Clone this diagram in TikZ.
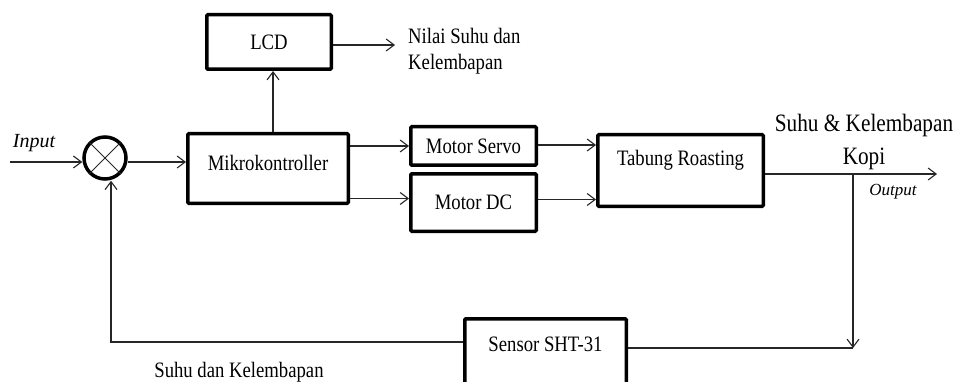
\documentclass[tikz,border=0pt]{standalone}
\usepackage{fontspec}
\setmainfont{Liberation Serif}[FakeStretch=0.85]
\newfontfamily\kopiitfont{Liberation Serif}
\usepackage{tikz}
\usetikzlibrary{positioning,arrows.meta}
\tikzset{
    kopiblock/.style={draw, line width=3.5pt, rounded corners=1pt, align=center, inner sep=0pt, font=\fontsize{22}{26}\selectfont},
    kopisum/.style={draw, circle, line width=3.5pt, minimum size=42pt, inner sep=0pt},
    kopiarrow/.style={draw, -{Straight Barb[length=8pt,width=12pt]}, line width=1.1pt, black!85},
    kopiline/.style={draw, line width=1.1pt, black!85},
    kopitext/.style={align=left, inner sep=0pt, font=\fontsize{22}{26}\selectfont},
    kopiitalic/.style={inner sep=0pt, font=\kopiitfont\itshape\fontsize{20}{24}\selectfont}
}

\begin{document}
\begin{tikzpicture}[x=1pt, y=-1pt]
    \useasboundingbox (0,0) rectangle (957,382);

    \node[kopisum] (sum) at (105,158) {};
    \node[kopiblock, minimum width=160.5pt, minimum height=69.5pt, text depth=11pt] (mcu) at (268,168.5) {Mikrokontroller};
    \node[kopiblock, minimum width=124.5pt, minimum height=54.5pt] (lcd) at (269,42) {LCD};
    \node[kopiblock, minimum width=125.5pt, minimum height=38.5pt] (servo) at (473.5,146) {Motor Servo};
    \node[kopiblock, minimum width=125.5pt, minimum height=57.5pt] (dc) at (473.5,202.5) {Motor DC};
    \node[kopiblock, minimum width=165.5pt, minimum height=71.5pt, text depth=26pt] (tabung) at (680.5,170.5) {Tabung Roasting};
    \node[kopiblock, minimum width=161.5pt, minimum height=70pt, text depth=19pt] (sensor) at (545.5,353.75) {Sensor SHT-31};

    \draw[kopiline, line width=0.8pt] (sum.45) -- (sum.225);
    \draw[kopiline, line width=0.8pt] (sum.135) -- (sum.315);

    \node[kopiitalic] (inlabel) at (34,143) {Input};
    \node[kopiitalic, font=\kopiitfont\itshape\fontsize{17}{20}\selectfont] (outlabel) at (893,192) {Output};
    \node[kopitext] (nilai) at (408,51) [anchor=west] {Nilai Suhu dan\\Kelembapan};
    \node[kopitext, align=center, font=\fontsize{25}{33}\selectfont] (kopi) at (864,141.5) {Suhu \& Kelembapan\\Kopi};
    \node[kopitext] (ukur) at (239,372) {Suhu dan Kelembapan};

    \coordinate (inp) at (10,162);
    \coordinate (lcdout) at (395,45);
    \coordinate (outend) at (937,174);
    \coordinate (branch) at (853,174);
    \coordinate (fbdown) at (853,348);
    \coordinate (fbcorner) at (111,342);

    \draw[kopiarrow] (inp) -- (inp -| sum.west);
    \draw[kopiarrow] ([yshift=-4pt]sum.east) -- ([yshift=-4pt]sum.east -| mcu.west);
    \draw[kopiarrow] ([xshift=5pt]mcu.north) -- ([xshift=5pt]mcu.north |- lcd.south);
    \draw[kopiarrow] (lcd.east |- lcdout) -- (lcdout);
    \draw[kopiarrow] (mcu.east |- servo) -- (servo.west);
    \draw[kopiarrow] ([yshift=4pt]mcu.east |- dc) -- ([yshift=4pt]dc.west);
    \draw[kopiarrow] ([yshift=1pt]servo.east) -- ([yshift=1pt]servo.east -| tabung.west);
    \draw[kopiarrow] ([yshift=3pt]dc.east) -- ([yshift=3pt]dc.east -| tabung.west);
    \draw[kopiarrow] (tabung.east |- outend) -- (outend);
    \draw[kopiarrow] (branch) -- (fbdown);
    \draw[kopiline] (fbdown) -- (fbdown -| sensor.east);
    \draw[kopiarrow] (sensor.west |- fbcorner) -- (fbcorner) -- (fbcorner |- sum.south);
\end{tikzpicture}
\end{document}
